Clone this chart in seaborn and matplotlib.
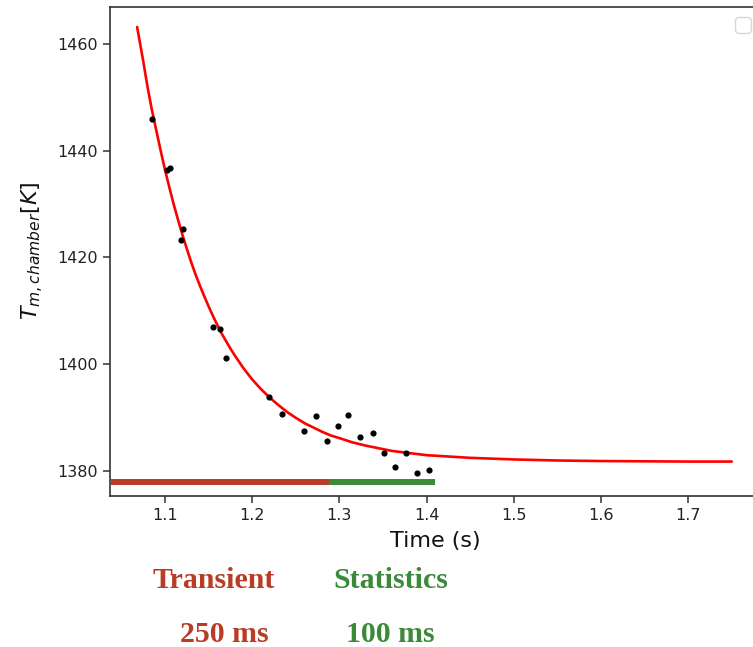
import matplotlib
matplotlib.use("Agg")
import matplotlib.pyplot as plt
import seaborn as sns

# ---- data ----
meas_time = [1.0847, 1.1020, 1.1057, 1.1183, 1.1210, 1.1554, 1.1631, 1.1700,
             1.2196, 1.2338, 1.2594, 1.2732, 1.2861, 1.2987, 1.3102, 1.3236,
             1.3382, 1.3511, 1.3638, 1.3764, 1.3886, 1.4031]
meas_temp = [1445.9, 1436.3, 1436.8, 1423.2, 1425.3, 1406.9, 1406.5, 1401.1,
             1393.8, 1390.6, 1387.5, 1390.3, 1385.6, 1388.4, 1390.5, 1386.4,
             1387.1, 1383.4, 1380.6, 1383.4, 1379.5, 1380.1]

fit_time = [1.068, 1.075, 1.08, 1.085, 1.09, 1.095, 1.10, 1.105, 1.11, 1.115,
            1.12, 1.125, 1.13, 1.135, 1.14, 1.145, 1.15, 1.155, 1.16, 1.165,
            1.17, 1.175, 1.18, 1.185, 1.19, 1.20, 1.21, 1.22, 1.23, 1.24,
            1.25, 1.26, 1.27, 1.28, 1.29, 1.30, 1.315, 1.33, 1.345, 1.36,
            1.38, 1.40, 1.45, 1.50, 1.55, 1.60, 1.65, 1.70, 1.75]
fit_temp = [1463.2, 1456.8, 1451.9, 1447.6, 1443.8, 1440.0, 1436.4, 1433.1,
            1429.9, 1427.0, 1424.2, 1421.6, 1419.1, 1416.8, 1414.7, 1412.7,
            1410.8, 1409.0, 1407.3, 1405.7, 1404.3, 1402.9, 1401.6, 1400.4,
            1399.2, 1397.1, 1395.3, 1393.7, 1392.3, 1391.0, 1389.9, 1388.9,
            1388.1, 1387.3, 1386.6, 1386.1, 1385.3, 1384.7, 1384.2, 1383.7,
            1383.3, 1382.9, 1382.4, 1382.1, 1381.9, 1381.8, 1381.75, 1381.7,
            1381.7]

phase_names = ["Transient", "Statistics"]
phase_durations = ["250 ms", "100 ms"]
phase_start = [1.038, 1.288]
phase_end = [1.288, 1.410]
phase_level = 1377.9
phase_colors = ["#b83c26", "#3b8a3a"]

x_ticks = [1.1, 1.2, 1.3, 1.4, 1.5, 1.6, 1.7]
y_ticks = [1380, 1400, 1420, 1440, 1460]

# ---- figure ----
sns.set_style("ticks")
W, H = 753, 647
fig = plt.figure(figsize=(W / 100, H / 100), dpi=100)
ax = fig.add_axes([110 / W, 1 - 495.7 / H, (761.5 - 110) / W, (495.7 - 6.7) / H])

sns.lineplot(x=fit_time, y=fit_temp, color="red", linewidth=1.9, ax=ax,
             sort=False, estimator=None)
sns.scatterplot(x=meas_time, y=meas_temp, color="black", s=20, linewidth=0,
                ax=ax, zorder=3)

for s, e, c in zip(phase_start, phase_end, phase_colors):
    ax.hlines(phase_level, s, e, color=c, linewidth=4.3, zorder=4)

ax.set_xlim(1.0369, 1.7841)
ax.set_ylim(1375.3, 1467.0)
ax.set_xticks(x_ticks)
ax.set_yticks(y_ticks)
ax.tick_params(labelsize=11.5, length=5, width=1.1, color="#333333",
               labelcolor="#222222")
for sp in ax.spines.values():
    sp.set_color("#333333")
    sp.set_linewidth(1.2)

ax.set_xlabel("Time (s)", fontsize=16, color="#111111", labelpad=6)
ax.set_ylabel(r"$T_{m,chamber}[K]$", fontsize=16, color="#111111", labelpad=8)

ax.legend(handles=[], labels=[], loc="upper right", prop={"size": 14.5})

# phase labels below the axes
name_x = [213.3, 390.5]
dur_x = [224.7, 390.8]
for i in range(2):
    fig.text(name_x[i] / W, 1 - 588.0 / H, phase_names[i], ha="center",
             va="baseline", fontsize=21.5, fontweight="bold",
             family="Liberation Serif", color=phase_colors[i])
    fig.text(dur_x[i] / W, 1 - 641.5 / H, phase_durations[i], ha="center",
             va="baseline", fontsize=21.5, fontweight="bold",
             family="Liberation Serif", color=phase_colors[i])

fig.savefig("out.png", dpi=100)
